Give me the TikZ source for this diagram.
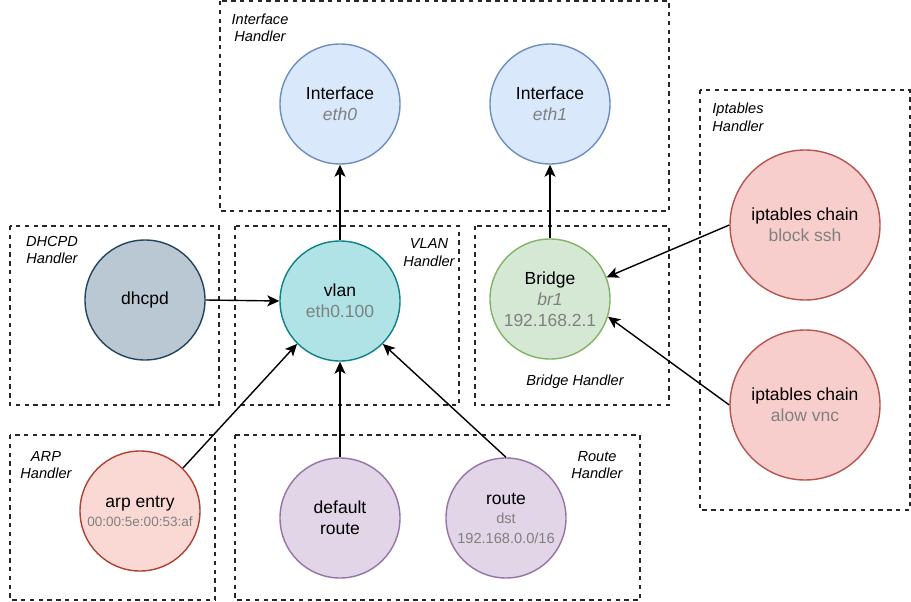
\documentclass[tikz,border=0pt]{standalone}
\usepackage{fontspec}
\setmainfont{Liberation Sans}
\usetikzlibrary{arrows.meta}

\definecolor{ifFill}{HTML}{DAE8FC}\definecolor{ifLine}{HTML}{6C8EBF}
\definecolor{vlFill}{HTML}{B0E3E6}\definecolor{vlLine}{HTML}{0E8088}
\definecolor{dhFill}{HTML}{BAC8D3}\definecolor{dhLine}{HTML}{23445D}
\definecolor{brFill}{HTML}{D5E8D4}\definecolor{brLine}{HTML}{82B366}
\definecolor{ipFill}{HTML}{F8CECC}\definecolor{ipLine}{HTML}{B85450}
\definecolor{arFill}{HTML}{FAD9D5}\definecolor{arLine}{HTML}{AE4132}
\definecolor{rtFill}{HTML}{E1D5E7}\definecolor{rtLine}{HTML}{9673A6}
\definecolor{subtext}{HTML}{808080}

\tikzset{
  handlerbox/.style={draw=black!85, line width=1.4pt, dash pattern=on 4.4pt off 4.4pt},
  handlerlabel/.style={font=\fontsize{14.6}{17.5}\selectfont\itshape, align=center, inner sep=0pt},
  entity/.style={circle, line width=1.4pt, minimum size=120pt, inner sep=0pt, align=center,
    font=\fontsize{17.5}{21}\selectfont},
  bigentity/.style={entity, minimum size=150pt},
  flow/.style={line width=1.4pt, -{Stealth[length=12pt,width=11pt,inset=3pt]}},
}
\newcommand{\subt}[1]{\textcolor{subtext}{#1}}
\newcommand{\smallsub}[1]{{\fontsize{14.6}{17}\selectfont\textcolor{subtext}{#1}}}
\newcommand{\tinysub}[1]{{\fontsize{13.5}{16}\selectfont\textcolor{subtext}{#1}}}

\begin{document}
\begin{tikzpicture}[x=1pt,y=-1pt]
\useasboundingbox (0,0) rectangle (911,602);

% handler areas
\draw[handlerbox] (220,1) rectangle (669,211);
\draw[handlerbox] (10,226) rectangle (219,405);
\draw[handlerbox] (235,226) rectangle (459,405);
\draw[handlerbox] (475,226) rectangle (669,405);
\draw[handlerbox] (700,90) rectangle (910,510);
\draw[handlerbox] (10,435) rectangle (215,600);
\draw[handlerbox] (235,435) rectangle (640,600);

\node[handlerlabel] (lif) at (260,28) {Interface\\Handler};
\node[handlerlabel] (ldh) at (52,250) {DHCPD\\Handler};
\node[handlerlabel] (lvl) at (429,252.5) {VLAN\\Handler};
\node[handlerlabel] (lbr) at (575,382) {Bridge Handler};
\node[handlerlabel] (lip) at (738,117.5) {Iptables\\Handler};
\node[handlerlabel] (lar) at (46,465) {ARP\\Handler};
\node[handlerlabel] (lrt) at (597,465) {Route\\Handler};

% entities
\node[entity, draw=ifLine, fill=ifFill] (eth0) at (340,104) {Interface\\\subt{\itshape eth0}};
\node[entity, draw=ifLine, fill=ifFill] (eth1) at (550,104) {Interface\\\subt{\itshape eth1}};
\node[entity, draw=vlLine, fill=vlFill] (vlan) at (340,301) {vlan\\\subt{eth0.100}};
\node[entity, draw=dhLine, fill=dhFill] (dhcpd) at (145,300) {dhcpd};
\node[entity, draw=brLine, fill=brFill] (br) at (550,299) {Bridge\\\subt{\itshape br1}\\\subt{192.168.2.1}};
\node[bigentity, draw=ipLine, fill=ipFill] (ssh) at (805,225) {iptables chain\\\subt{block ssh}};
\node[bigentity, draw=ipLine, fill=ipFill] (vnc) at (805,405) {iptables chain\\\subt{alow vnc}};
\node[entity, draw=arLine, fill=arFill] (arp) at (140,511)
  {arp entry\\[-2pt]\tinysub{00:00:5e:00:53:af}};
\node[entity, draw=rtLine, fill=rtFill] (defr) at (340,518) {default\\route};
\node[entity, draw=rtLine, fill=rtFill] (route) at (506,518)
  {route\\[-2pt]\smallsub{dst}\\[-1pt]\smallsub{192.168.0.0/16}};

% dependencies
\draw[flow] (vlan.north) -- (eth0.south);
\draw[flow] (br.north) -- (eth1.south);
\draw[flow] (dhcpd.east) -- (vlan.west);
\draw[flow] (arp.45) -- (vlan.225);
\draw[flow] (defr.north) -- (vlan.south);
\draw[flow] (route.north) -- (vlan.-45);
\draw[flow] (ssh.west) -- (br.21);
\draw[flow] (vnc.west) -- (br.-17);
\end{tikzpicture}
\end{document}
